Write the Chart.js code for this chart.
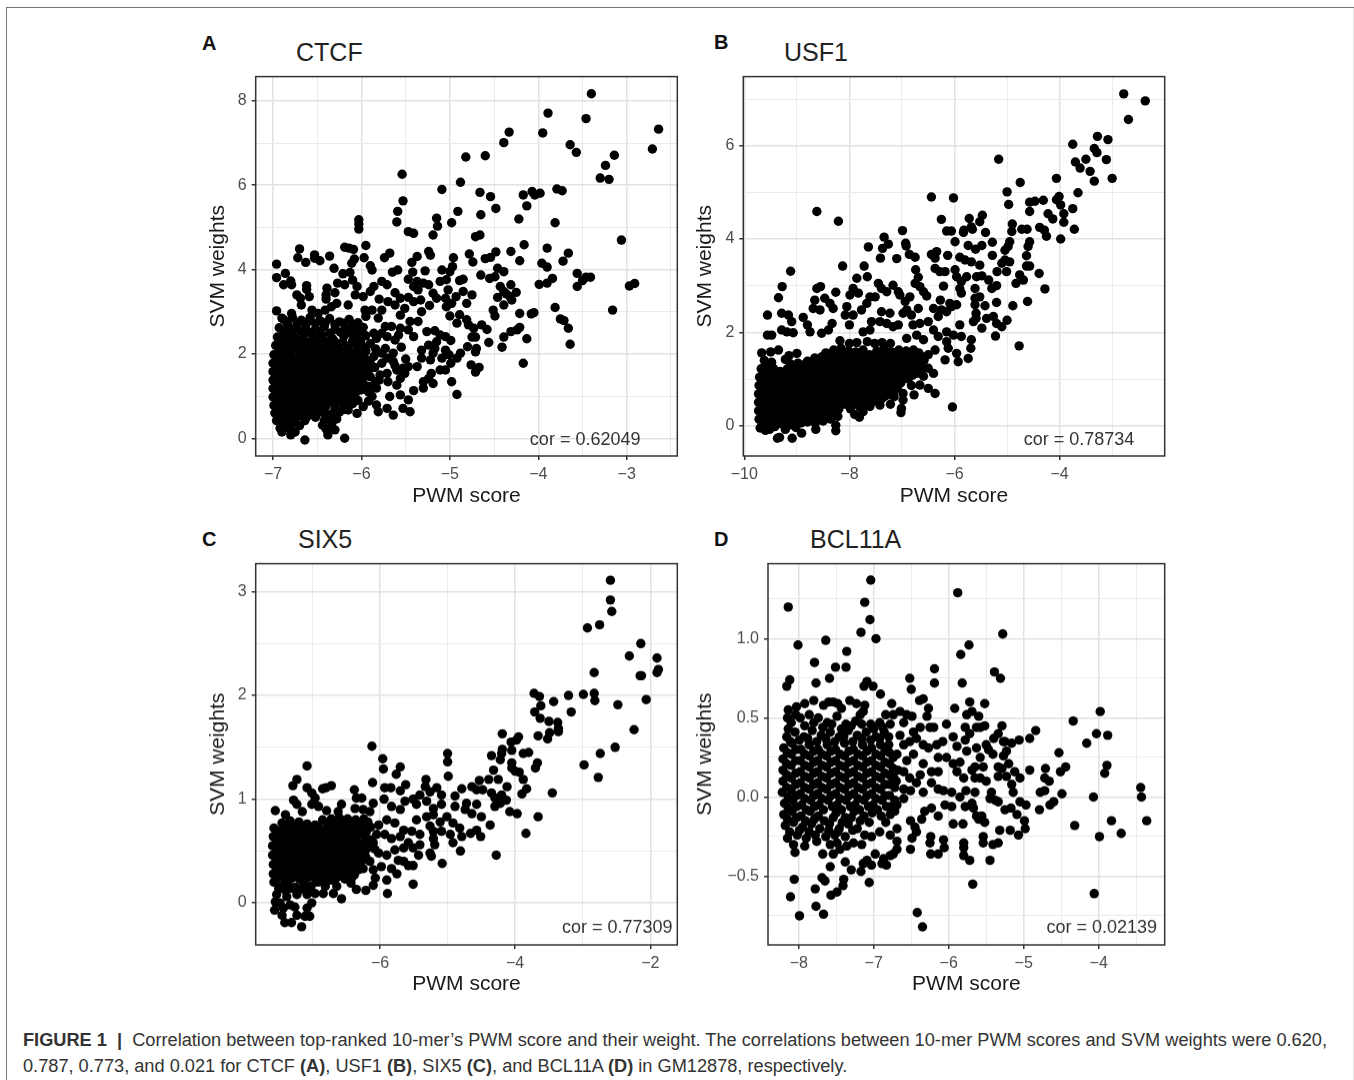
<!DOCTYPE html>
<html>
<head>
<meta charset="utf-8">
<script src="https://cdn.jsdelivr.net/npm/chart.js@4"></script>
<style>
  body { margin: 0; background: #fff; width: 1354px; height: 1080px; overflow: hidden; font-family: "Liberation Sans", Arial, sans-serif; }
  canvas { position: absolute; }
  .rule { position: absolute; }
  .letter { position: absolute; font-weight: bold; font-size: 20px; line-height: 24px; color: #111; }
  .name { position: absolute; font-size: 25px; line-height: 30px; color: #222; }
  .caption { position: absolute; left: 23px; font-size: 18px; line-height: 22px; color: #333; white-space: nowrap; transform-origin: left center; }
</style>
</head>
<body>
<div class="rule" style="left:6px;top:7px;width:1348px;height:1px;background:#777"></div>
<div class="rule" style="left:6px;top:7px;width:1px;height:1073px;background:#777"></div>
<div class="rule" style="left:1353px;top:8px;width:1px;height:1072px;background:#e4e4e4"></div>

<div class="letter" style="left:202px;top:31px">A</div>
<div class="letter" style="left:714px;top:30px">B</div>
<div class="letter" style="left:202px;top:527px">C</div>
<div class="letter" style="left:714px;top:527px">D</div>
<div class="name" style="left:296px;top:37px">CTCF</div>
<div class="name" style="left:784px;top:37px">USF1</div>
<div class="name" style="left:298px;top:524px">SIX5</div>
<div class="name" style="left:810px;top:524px">BCL11A</div>

<canvas id="chartA"></canvas>
<canvas id="chartB"></canvas>
<canvas id="chartC"></canvas>
<canvas id="chartD"></canvas>

<div class="caption" id="cap1" style="top:1029px"><b>FIGURE 1 &nbsp;|</b>&nbsp; Correlation between top-ranked 10-mer’s PWM score and their weight. The correlations between 10-mer PWM scores and SVM weights were 0.620,</div>
<div class="caption" id="cap2" style="top:1055px">0.787, 0.773, and 0.021 for CTCF <b>(A)</b>, USF1 <b>(B)</b>, SIX5 <b>(C)</b>, and BCL11A <b>(D)</b> in GM12878, respectively.</div>

<script>
// values: [PWM score, SVM weight]
const ctcfPoints = [
[-3.40,8.17],[-3.89,7.71],[-3.46,7.58],[-2.64,7.33],[-2.71,6.86],[-3.95,7.24],[-4.33,7.26],[-4.39,7.01],[-3.64,6.96],[-3.57,6.78],[-3.14,6.71],[-3.24,6.47],[-3.30,6.17],[-3.20,6.14],[-4.82,6.67],[-4.60,6.70],[-5.54,6.26],[-4.88,6.07],[-5.09,5.90],[-5.53,5.63],[-4.66,5.83],[-4.54,5.73],[-4.17,5.77],[-4.07,5.85],[-4.04,5.77],[-3.98,5.81],[-3.79,5.91],[-3.73,5.87],[-4.13,5.51],[-4.48,5.45],[-4.91,5.38],[-4.65,5.30],[-5.59,5.38],[-5.60,5.13],[-6.03,5.18],[-6.03,5.08],[-6.03,4.96],[-5.15,5.22],[-5.14,5.03],[-4.98,5.11],[-4.22,5.20],[-3.81,5.11],[-5.47,4.90],[-5.41,4.86],[-5.19,4.82],[-4.71,4.78],[-4.66,4.82],[-3.06,4.70],[-4.16,4.59],[-3.90,4.51],[-4.31,4.43],[-3.66,4.39],[-4.48,4.42],[-4.78,4.37],[-5.24,4.43],[-5.22,4.34],[-4.96,4.28],[-4.60,4.26],[-4.54,4.29],[-3.72,4.20],[-4.21,4.21],[-4.74,4.18],[-3.96,4.15],[-3.90,4.06],[-4.46,4.03],[-4.39,3.95],[-3.56,3.91],[-4.97,4.07],[-5.00,3.95],[-5.09,3.99],[-4.65,3.87],[-4.49,3.83],[-4.55,3.79],[-3.41,3.82],[-3.46,3.82],[-3.50,3.74],[-3.56,3.60],[-3.84,3.79],[-3.90,3.68],[-3.99,3.65],[-4.31,3.64],[-4.43,3.60],[-2.97,3.61],[-2.91,3.67],[-4.85,3.77],[-4.89,3.74],[-4.75,3.40],[-4.85,3.48],[-4.93,3.36],[-4.39,3.48],[-4.36,3.42],[-4.32,3.36],[-4.25,3.46],[-4.30,3.28],[-4.46,3.34],[-4.39,3.16],[-4.81,3.20],[-3.81,3.10],[-3.16,3.04],[-4.51,3.04],[-4.49,2.90],[-4.21,2.96],[-4.08,2.95],[-4.05,2.98],[-5.00,2.90],[-4.89,2.93],[-4.92,2.73],[-4.81,2.81],[-4.79,2.69],[-4.73,2.61],[-4.64,2.69],[-4.58,2.58],[-3.75,2.83],[-3.71,2.79],[-3.66,2.61],[-3.64,2.23],[-4.31,2.53],[-4.24,2.57],[-4.21,2.63],[-4.39,2.40],[-4.13,2.36],[-4.41,2.16],[-4.56,2.27],[-4.75,2.40],[-4.71,2.40],[-4.80,2.17],[-4.70,2.13],[-4.71,2.05],[-4.17,1.78],[-4.76,1.74],[-4.67,1.68],[-4.71,1.57],[-4.88,2.02],[-4.92,1.90],[-4.99,1.78],[-4.98,1.34],[-4.92,1.04],
[-6.96,4.13],[-6.96,3.81],[-6.86,3.91],[-6.88,3.64],[-6.80,3.73],[-6.79,3.64],[-6.70,4.49],[-6.72,4.28],[-6.63,4.17],[-6.53,4.35],[-6.53,4.27],[-6.47,4.21],[-6.36,4.32],[-6.31,4.03],[-6.62,3.62],[-6.62,3.53],[-6.59,3.36],[-6.73,3.40],[-6.69,3.32],[-6.68,3.16],[-6.96,3.02],[-6.39,3.56],[-6.40,3.40],[-6.40,3.30],[-6.30,3.45],[-6.27,3.68],[-6.21,3.90],[-6.13,3.93],[-6.19,4.53],[-6.14,4.51],[-6.09,4.48],[-5.95,4.57],[-5.97,4.28],[-6.08,4.25],[-6.11,4.15],[-5.90,4.09],[-5.88,3.99],[-5.74,4.28],[-5.68,4.39],[-5.37,4.31],[-5.43,4.17],[-5.65,3.94],[-5.59,3.99],[-5.42,3.94],[-5.47,3.77],[-5.37,3.72],[-5.28,3.97],[-6.19,3.64],[-6.10,3.75],[-6.05,3.60],[-6.07,3.40],[-5.98,3.36],[-5.86,3.60],[-5.77,3.72],[-5.71,3.64],[-5.90,3.48],[-5.62,3.45],[-5.56,3.32],[-5.47,3.34],[-5.41,3.60],[-5.36,3.52],[-5.30,3.68],[-5.24,3.64],[-5.19,3.44],[-5.15,3.32],[-5.11,3.72],[-5.04,3.76],[-5.02,3.52],[-5.05,3.32],[-5.04,3.12],[-4.98,3.20],[-5.80,3.30],[-5.70,3.24],[-5.62,3.16],[-6.15,3.16],[-6.28,3.20],[-6.34,3.12],[-5.96,3.04],[-5.88,3.04],[-5.95,2.89],[-5.77,3.04],[-5.81,2.85],[-5.56,2.92],[-5.51,3.08],[-5.32,3.00],[-5.23,3.15],[-5.41,3.24],[-5.33,3.28],[-6.56,3.04],[-6.49,2.96],[-6.41,3.04],[-6.79,2.96],[-6.90,2.85],
[-5.45,2.77],[-5.36,2.77],[-5.47,2.57],[-5.41,2.41],[-5.56,2.61],[-5.66,2.65],[-5.73,2.65],[-5.26,2.53],[-5.17,2.55],[-5.11,2.45],[-5.05,2.41],[-4.99,2.32],[-5.15,2.29],[-5.17,2.13],[-5.24,2.21],[-5.32,2.09],[-5.19,2.02],[-5.22,1.86],[-5.05,2.09],[-5.09,1.90],[-5.01,1.98],[-5.37,1.70],[-5.32,1.90],[-5.11,1.62],[-5.05,1.62],[-5.21,1.54],[-5.24,1.42],[-5.30,1.34],[-5.19,1.30],[-5.30,1.19],[-5.41,1.13],[-5.47,1.70],[-5.53,1.66],[-5.60,1.62],[-5.51,1.54],[-5.56,1.42],[-5.60,1.26],[-5.56,1.03],[-5.68,0.99],[-5.47,0.91],[-5.53,0.71],[-5.45,0.63],[-5.64,0.55],[-5.71,0.71],[-5.81,0.63],[-5.83,0.79],[-5.71,2.41],[-5.77,2.49],[-5.83,2.37],[-5.86,2.49],[-5.62,2.33],[-5.73,2.13],[-5.64,2.02],[-5.77,2.02],[-5.64,1.82],[-5.77,1.78],[-5.71,1.90],[-5.86,1.94],[-5.90,1.78],[-5.90,1.46],[-5.79,1.50],[-5.71,1.54],[-5.92,1.23],[-5.83,1.19],[-5.70,1.34],[-5.88,0.99],[-5.98,0.75],[-6.05,0.59],[-6.15,0.67],
[-6.88,2.82],[-6.78,2.86],[-6.68,2.80],[-6.58,2.87],[-6.47,2.79],[-6.36,2.84],[-6.25,2.76],[-6.14,2.82],[-6.04,2.74],
[-6.93,2.62],[-6.83,2.66],[-6.74,2.60],[-6.63,2.67],[-6.52,2.59],[-6.42,2.65],[-6.30,2.58],[-6.18,2.62],[-6.08,2.56],[-5.98,2.63],
[-6.95,2.40],[-6.85,2.45],[-6.75,2.38],[-6.65,2.46],[-6.55,2.40],[-6.45,2.44],[-6.33,2.37],[-6.20,2.42],[-6.05,2.38],[-5.95,2.43],
[-6.97,2.20],[-6.86,2.24],[-6.77,2.18],[-6.66,2.25],[-6.57,2.19],[-6.46,2.23],[-6.37,2.17],[-6.27,2.24],[-6.15,2.18],[-6.06,2.22],[-5.96,2.16],
[-6.99,1.98],[-6.90,2.03],[-6.80,1.97],[-6.70,2.04],[-6.60,1.98],[-6.50,2.02],[-6.40,1.96],[-6.30,2.03],[-6.20,1.97],[-6.10,2.01],[-6.00,1.96],
[-7.00,1.78],[-6.91,1.82],[-6.81,1.77],[-6.71,1.83],[-6.61,1.78],[-6.51,1.82],[-6.41,1.76],[-6.31,1.83],[-6.21,1.77],[-6.11,1.81],[-6.01,1.76],
[-7.00,1.58],[-6.90,1.62],[-6.80,1.57],[-6.70,1.63],[-6.60,1.57],[-6.50,1.62],[-6.40,1.56],[-6.30,1.62],[-6.20,1.57],[-6.10,1.62],[-6.00,1.56],
[-7.00,1.38],[-6.91,1.42],[-6.81,1.37],[-6.71,1.43],[-6.61,1.37],[-6.51,1.42],[-6.41,1.36],[-6.31,1.42],[-6.21,1.37],[-6.11,1.41],[-6.01,1.36],
[-7.00,1.18],[-6.90,1.22],[-6.80,1.17],[-6.70,1.23],[-6.60,1.17],[-6.50,1.21],[-6.40,1.16],[-6.30,1.22],[-6.20,1.17],[-6.10,1.21],[-6.00,1.15],
[-7.00,0.98],[-6.91,1.02],[-6.81,0.97],[-6.71,1.03],[-6.61,0.97],[-6.51,1.01],[-6.41,0.96],[-6.31,1.01],[-6.21,0.96],[-6.11,1.00],
[-6.99,0.78],[-6.90,0.82],[-6.80,0.77],[-6.70,0.83],[-6.60,0.77],[-6.50,0.81],[-6.40,0.76],[-6.30,0.81],[-6.20,0.76],[-6.10,0.82],
[-6.98,0.60],[-6.88,0.62],[-6.78,0.57],[-6.68,0.63],[-6.58,0.58],[-6.46,0.62],[-6.35,0.56],[-6.25,0.62],
[-6.96,0.42],[-6.86,0.44],[-6.76,0.40],[-6.64,0.42],[-6.42,0.42],[-6.33,0.38],[-6.28,0.46],
[-6.92,0.24],[-6.90,0.15],[-6.80,0.32],[-6.75,0.15],[-6.80,0.08],[-6.40,0.22],[-6.38,0.08],[-6.30,0.20],[-6.64,-0.04],[-6.19,0.00],
[-6.84,2.73],[-6.73,2.71],[-6.62,2.74],[-6.52,2.72],[-6.41,2.74],[-6.30,2.70],[-6.20,2.73],[-6.09,2.70],
[-6.88,2.53],[-6.79,2.50],[-6.69,2.54],[-6.58,2.51],[-6.47,2.53],[-6.36,2.49],[-6.24,2.52],[-6.13,2.50],[-6.03,2.53],
[-6.91,2.31],[-6.80,2.29],[-6.71,2.32],[-6.60,2.28],[-6.50,2.31],[-6.40,2.29],[-6.31,2.31],[-6.21,2.28],[-6.10,2.31],[-6.01,2.29],
[-6.93,2.11],[-6.83,2.09],[-6.73,2.12],[-6.64,2.08],[-6.53,2.11],[-6.44,2.09],[-6.34,2.12],[-6.24,2.09],[-6.15,2.11],[-6.05,2.09],[-5.95,2.07],
[-6.95,1.89],[-6.85,1.91],[-6.75,1.88],[-6.65,1.91],[-6.55,1.88],[-6.45,1.91],[-6.35,1.89],[-6.25,1.91],[-6.15,1.88],[-6.05,1.91],[-5.95,1.87],
[-6.95,1.69],[-6.85,1.71],[-6.75,1.68],[-6.65,1.71],[-6.55,1.68],[-6.45,1.71],[-6.35,1.68],[-6.25,1.71],[-6.15,1.69],[-6.05,1.71],[-5.95,1.67],
[-6.95,1.49],[-6.85,1.51],[-6.75,1.48],[-6.65,1.51],[-6.55,1.48],[-6.45,1.51],[-6.35,1.48],[-6.25,1.51],[-6.15,1.48],[-6.05,1.51],[-5.95,1.47],
[-6.95,1.29],[-6.85,1.31],[-6.75,1.28],[-6.65,1.31],[-6.55,1.28],[-6.45,1.31],[-6.35,1.28],[-6.25,1.31],[-6.15,1.28],[-6.05,1.31],[-5.97,1.27],
[-6.95,1.09],[-6.85,1.11],[-6.75,1.08],[-6.65,1.11],[-6.55,1.08],[-6.45,1.11],[-6.35,1.08],[-6.25,1.11],[-6.15,1.08],[-6.05,1.11],
[-6.95,0.89],[-6.85,0.91],[-6.75,0.88],[-6.65,0.91],[-6.55,0.88],[-6.45,0.91],[-6.35,0.88],[-6.25,0.91],[-6.15,0.88],[-6.04,0.90],
[-6.94,0.69],[-6.84,0.71],[-6.74,0.68],[-6.64,0.71],[-6.54,0.68],[-6.42,0.70],[-6.30,0.68],[-6.20,0.68],
[-6.93,0.51],[-6.83,0.50],[-6.72,0.52],[-6.62,0.50],[-6.52,0.50],[-6.40,0.52],[-6.30,0.52],[-6.90,0.33],[-6.82,0.24],[-6.70,0.30],[-6.44,0.31],[-6.34,0.28],
[-5.90,2.24],[-5.84,2.12],[-5.85,1.68],[-5.92,1.62],[-5.84,1.34],[-5.92,1.10],[-5.80,1.38],[-5.62,1.72],[-5.55,2.16],[-5.50,1.88],[-5.58,2.45],[-5.92,0.88]
];

const usf1Points = [
[-2.78,7.11],[-2.37,6.96],[-2.69,6.56],[-3.28,6.20],[-3.08,6.13],[-3.75,6.03],[-3.34,5.94],[-3.29,5.85],[-3.50,5.71],[-3.11,5.70],[-5.16,5.71],[-3.70,5.65],[-3.61,5.52],[-3.42,5.45],[-3.34,5.24],[-3.00,5.30],[-4.06,5.30],[-4.75,5.21],[-3.65,4.99],[-5.00,5.01],[-6.44,4.90],[-6.02,4.88],[-4.01,4.91],[-4.06,4.84],[-3.98,4.73],[-4.31,4.83],[-4.47,4.81],[-4.57,4.79],[-4.97,4.74],[-3.75,4.65],[-4.57,4.59],[-3.92,4.54],[-4.22,4.54],[-4.13,4.43],[-3.92,4.36],[-3.72,4.21],[-8.62,4.59],[-8.21,4.38],[-6.25,4.42],[-5.72,4.44],[-5.47,4.51],[-5.52,4.37],[-5.66,4.21],[-5.68,4.26],[-5.83,4.14],[-5.82,4.19],[-5.41,4.14],[-6.15,4.17],[-6.06,4.17],[-4.90,4.32],[-4.91,4.16],[-4.72,4.21],[-4.62,4.21],[-4.38,4.25],[-4.29,4.19],[-4.25,4.06],[-3.98,4.00],[-6.99,4.18],[-7.34,4.04],[-7.26,3.89],[-7.37,3.80],[-7.41,3.59],[-7.64,3.83],[-6.93,3.91],[-6.92,3.85],[-6.86,3.67],[-6.75,3.61],[-7.10,3.58],[-8.13,3.42],[-7.72,3.42],[-9.12,3.31],[-7.86,3.16],[-7.66,3.19],[-5.99,3.94],[-5.28,3.93],[-5.48,3.86],[-5.60,3.78],[-5.74,3.86],[-4.95,3.94],[-4.98,3.84],[-5.04,3.76],[-4.57,3.94],[-4.60,3.84],[-4.63,3.64],[-4.63,3.42],[-4.57,3.42],[-5.28,3.65],[-6.44,3.67],[-6.34,3.73],[-6.37,3.59],[-6.13,3.65],[-5.90,3.61],[-5.80,3.55],[-5.68,3.51],[-5.52,3.44],[-5.04,3.55],[-5.10,3.48],[-4.95,3.51],[-5.19,3.30],[-5.01,3.30],[-4.39,3.26],[-4.28,2.93],[-4.76,3.23],[-4.69,3.12],[-4.83,3.05],[-6.37,3.37],[-6.28,3.30],[-6.18,3.30],[-5.99,3.34],[-5.96,3.19],[-5.77,3.19],[-5.87,3.09],[-5.58,3.19],[-5.48,3.21],[-5.35,3.12],[-5.29,2.94],[-5.20,3.00],[-6.21,2.99],[-5.90,2.94],[-5.87,2.84],[-5.61,2.94],[-6.74,3.34],[-6.69,3.18],[-6.75,3.05],[-6.66,2.98],[-6.59,2.87],[-6.53,2.78],[-7.45,3.05],[-7.39,2.94],[-7.29,2.87],[-7.17,3.01],[-7.07,2.87],[-7.04,2.80],[-9.28,2.98],[-9.35,2.74],[-8.62,2.94],[-8.55,2.98],[-8.47,2.73],[-8.26,2.86],[-8.66,2.69],[-8.69,2.51],[-8.56,2.48],[-8.37,2.62],[-8.31,2.51],[-7.93,2.94],[-7.83,2.84],[-7.99,2.80],[-7.61,2.76],[-7.51,2.76],[-7.67,2.62],[-7.77,2.48],[-8.05,2.55],[-7.93,2.37],[-8.08,2.37],[-8.00,2.16],[-9.56,2.37],[-9.29,2.41],[-9.16,2.37],[-9.10,2.23],[-8.88,2.32],[-8.80,2.16],[-8.75,2.01],[-8.33,2.19],[-8.53,1.98],[-8.40,2.05],[-9.56,1.94],[-9.48,1.94],[-9.29,2.05],[-9.19,2.01],[-9.07,1.99],[-7.39,2.44],[-7.23,2.41],[-7.58,2.23],[-7.42,2.23],[-7.29,2.19],[-7.17,2.12],[-7.07,2.16],[-7.61,2.05],[-7.74,2.01],[-6.85,2.76],[-6.94,2.66],[-6.91,2.48],[-6.98,2.41],[-6.82,2.37],[-6.69,2.51],[-6.40,2.51],[-6.31,2.34],[-6.25,2.48],[-6.15,2.44],[-6.06,2.55],[-5.96,2.59],[-6.27,2.69],[-6.09,2.62],[-5.61,2.59],[-5.42,2.57],[-5.52,2.76],[-5.61,2.73],[-5.20,2.64],[-4.89,2.57],[-4.61,2.66],[-5.59,2.41],[-5.64,2.23],[-5.48,2.09],[-5.59,2.30],[-5.39,2.30],[-5.26,2.34],[-5.20,2.19],[-5.10,2.12],[-5.00,2.26],[-5.22,1.92],[-4.77,1.71],[-5.90,2.16],[-6.02,1.94],[-5.87,1.91],[-6.15,2.01],[-6.15,1.80],[-6.79,2.16],[-6.66,2.19],[-6.50,2.23],[-6.40,2.05],[-6.31,1.91],[-6.72,1.94],[-6.59,1.84],[-6.91,1.87],[-5.68,1.84],[-5.69,1.66],[-5.74,1.44],[-5.96,1.55],[-5.93,1.37],[-6.18,1.41],[-6.12,1.66],[-6.37,1.62],[-6.04,0.40],[-6.37,0.69],[-6.50,0.80],[-6.66,0.87],[-6.77,0.66],[-6.59,1.06],[-6.50,1.23],[-6.40,1.12],[-6.82,0.86],[-6.98,0.69],[-6.98,0.55],[-7.01,0.37],[-7.02,0.28],[-7.15,0.62],[-7.22,0.46],[-7.42,0.44],[-7.61,0.41],[-7.74,0.30],[-7.81,0.18],
[-9.37,-0.27],[-9.33,-0.25],[-9.09,-0.27],[-8.91,-0.16],[-9.02,-0.04],[-8.64,-0.08],[-8.26,-0.11],[-8.26,0.01],[-9.67,1.56],[-9.50,1.58],[-9.15,1.50],[-9.00,1.55],[-9.35,1.62],
[-9.70,-0.05],[-9.60,-0.10],[-9.52,-0.08],[-9.42,-0.02],[-9.22,-0.08],[-9.12,0.02],[-8.80,0.08],[-8.65,0.05],[-8.50,0.10],[-8.36,0.14],[-8.22,0.20],
[-9.72,0.14],[-9.60,0.18],[-9.48,0.12],[-9.36,0.17],[-9.24,0.13],[-9.10,0.18],[-8.96,0.14],[-8.84,0.20],[-8.70,0.22],[-8.56,0.26],[-8.40,0.30],[-8.26,0.36],
[-9.73,0.32],[-9.61,0.36],[-9.49,0.31],[-9.37,0.37],[-9.25,0.32],[-9.12,0.37],[-8.98,0.32],[-8.85,0.38],[-8.72,0.34],[-8.58,0.42],[-8.44,0.46],[-8.28,0.52],[-8.14,0.46],[-7.98,0.36],[-7.90,0.24],
[-9.73,0.50],[-9.61,0.54],[-9.49,0.49],[-9.37,0.55],[-9.25,0.50],[-9.12,0.55],[-8.98,0.50],[-8.85,0.56],[-8.72,0.52],[-8.58,0.58],[-8.44,0.62],[-8.30,0.68],[-8.14,0.62],[-8.00,0.54],[-7.88,0.50],[-7.72,0.48],[-7.56,0.52],[-7.40,0.56],
[-9.73,0.68],[-9.61,0.72],[-9.49,0.67],[-9.37,0.73],[-9.25,0.68],[-9.12,0.73],[-8.98,0.68],[-8.85,0.74],[-8.72,0.70],[-8.58,0.76],[-8.44,0.80],[-8.30,0.84],[-8.14,0.78],[-8.00,0.72],[-7.86,0.68],[-7.72,0.66],[-7.56,0.70],[-7.40,0.72],[-7.28,0.66],[-7.14,0.76],
[-9.72,0.86],[-9.60,0.90],[-9.48,0.85],[-9.36,0.91],[-9.24,0.86],[-9.11,0.91],[-8.98,0.86],[-8.84,0.92],[-8.70,0.88],[-8.56,0.94],[-8.42,0.98],[-8.28,1.00],[-8.14,0.94],[-8.00,0.90],[-7.86,0.86],[-7.72,0.84],[-7.58,0.88],[-7.44,0.90],[-7.30,0.84],[-7.16,0.90],[-7.02,0.92],[-6.88,1.00],
[-9.71,1.04],[-9.59,1.08],[-9.47,1.03],[-9.35,1.09],[-9.23,1.04],[-9.10,1.09],[-8.96,1.04],[-8.82,1.10],[-8.68,1.06],[-8.54,1.12],[-8.40,1.15],[-8.26,1.18],[-8.12,1.12],[-7.98,1.08],[-7.84,1.04],[-7.70,1.02],[-7.56,1.06],[-7.42,1.08],[-7.28,1.02],[-7.14,1.08],[-7.00,1.10],[-6.86,1.16],[-6.72,1.12],
[-9.68,1.22],[-9.56,1.27],[-9.44,1.22],[-9.32,1.16],[-9.18,1.22],[-9.04,1.20],[-8.90,1.24],[-8.76,1.26],[-8.62,1.30],[-8.48,1.32],[-8.34,1.34],[-8.20,1.30],[-8.06,1.26],[-7.92,1.22],[-7.78,1.20],[-7.64,1.24],[-7.50,1.26],[-7.36,1.20],[-7.22,1.28],[-7.08,1.26],[-6.94,1.32],[-6.80,1.30],[-6.66,1.30],
[-9.62,1.40],[-9.22,1.42],[-8.80,1.38],[-8.66,1.45],[-8.52,1.48],[-8.38,1.50],[-8.24,1.47],[-8.10,1.44],[-7.96,1.40],[-7.82,1.38],[-7.68,1.42],[-7.46,1.44],[-7.32,1.40],[-7.18,1.46],[-7.04,1.44],[-6.90,1.48],[-6.76,1.46],[-6.62,1.48],[-6.50,1.52],
[-8.30,1.62],[-8.16,1.66],[-8.02,1.60],[-7.88,1.58],[-7.74,1.62],[-7.48,1.60],[-7.34,1.64],[-7.20,1.58],[-7.06,1.62],[-6.92,1.60],[-6.78,1.62],[-8.18,1.82],[-8.00,1.76],[-7.86,1.78],[-7.66,1.80],[-7.52,1.76],[-7.38,1.78],[-7.22,1.76],
[-9.66,0.05],[-9.54,0.04],[-9.42,0.08],[-9.30,0.04],[-9.17,0.09],[-9.04,0.08],[-8.92,0.06],[-8.78,0.14],[-8.62,0.14],[-8.46,0.20],[-8.32,0.24],
[-9.67,0.23],[-9.55,0.27],[-9.43,0.22],[-9.31,0.27],[-9.18,0.23],[-9.05,0.26],[-8.91,0.24],[-8.78,0.28],[-8.64,0.32],[-8.50,0.36],[-8.34,0.42],[-8.20,0.36],
[-9.67,0.41],[-9.55,0.45],[-9.43,0.40],[-9.31,0.46],[-9.18,0.41],[-9.05,0.46],[-8.91,0.41],[-8.78,0.46],[-8.65,0.43],[-8.51,0.52],[-8.37,0.56],[-8.21,0.56],[-8.07,0.46],[-7.94,0.44],[-7.80,0.40],[-7.64,0.44],
[-9.67,0.59],[-9.55,0.63],[-9.43,0.58],[-9.31,0.64],[-9.18,0.59],[-9.05,0.64],[-8.91,0.59],[-8.78,0.64],[-8.65,0.61],[-8.51,0.68],[-8.37,0.72],[-8.21,0.72],[-8.07,0.66],[-7.93,0.62],[-7.79,0.58],[-7.64,0.60],[-7.48,0.64],[-7.34,0.62],
[-9.67,0.77],[-9.55,0.81],[-9.43,0.76],[-9.31,0.82],[-9.18,0.77],[-9.05,0.82],[-8.91,0.77],[-8.78,0.83],[-8.64,0.79],[-8.50,0.86],[-8.36,0.90],[-8.21,0.88],[-8.07,0.84],[-7.93,0.80],[-7.79,0.76],[-7.65,0.78],[-7.50,0.80],[-7.36,0.80],[-7.22,0.78],[-7.08,0.84],
[-9.66,0.95],[-9.54,0.99],[-9.42,0.94],[-9.30,1.00],[-9.17,0.95],[-9.04,1.00],[-8.90,0.95],[-8.76,1.01],[-8.62,0.98],[-8.48,1.05],[-8.34,1.08],[-8.20,1.06],[-8.06,1.00],[-7.92,0.96],[-7.78,0.94],[-7.64,0.96],[-7.50,0.98],[-7.36,0.98],[-7.22,0.94],[-7.08,1.00],[-6.94,1.04],[-6.80,1.08],
[-9.64,1.14],[-9.52,1.17],[-9.40,1.13],[-9.26,1.14],[-9.12,1.18],[-9.00,1.12],[-8.86,1.18],[-8.72,1.16],[-8.58,1.22],[-8.44,1.24],[-8.30,1.26],[-8.16,1.20],[-8.02,1.18],[-7.88,1.13],[-7.74,1.12],[-7.60,1.15],[-7.46,1.18],[-7.32,1.12],[-7.18,1.18],[-7.04,1.18],[-6.90,1.24],[-6.76,1.22],[-6.62,1.22],
[-9.60,1.32],[-9.48,1.36],[-9.12,1.32],[-8.98,1.34],[-8.84,1.32],[-8.70,1.37],[-8.56,1.40],[-8.42,1.42],[-8.28,1.42],[-8.14,1.37],[-8.00,1.33],[-7.86,1.30],[-7.72,1.33],[-7.56,1.35],[-7.42,1.32],[-7.28,1.34],[-7.14,1.36],[-7.00,1.36],[-6.86,1.40],[-6.72,1.38],[-6.58,1.40],
[-8.45,1.56],[-8.32,1.56],[-8.18,1.56],[-8.06,1.52],[-7.92,1.50],[-7.78,1.50],[-7.62,1.52],[-7.50,1.52],[-7.38,1.52],[-7.24,1.52],[-7.10,1.53],[-6.96,1.54],[-6.82,1.54],[-6.68,1.56]
];

const six5Points = [
[-2.59,3.11],[-2.59,2.92],[-2.57,2.81],[-2.93,2.65],[-2.75,2.68],[-2.14,2.50],[-2.31,2.38],[-1.90,2.36],[-1.88,2.25],[-1.90,2.22],[-2.83,2.22],[-2.15,2.19],[-2.13,2.19],[-3.72,2.02],[-3.64,1.99],[-3.21,2.00],[-2.99,2.01],[-2.83,2.02],[-2.82,1.95],[-2.06,1.96],[-3.43,1.94],[-3.62,1.90],[-2.48,1.91],[-3.71,1.84],[-3.17,1.84],[-3.63,1.78],[-3.50,1.75],[-3.37,1.74],[-3.36,1.68],[-3.36,1.65],[-2.24,1.67],[-3.49,1.64],[-3.66,1.61],[-3.52,1.58],[-4.19,1.63],[-3.95,1.60],[-3.98,1.57],[-4.06,1.55],[-2.52,1.50],[-4.19,1.48],[-4.20,1.44],[-4.05,1.47],[-4.35,1.42],[-4.22,1.38],[-3.80,1.45],[-3.88,1.44],[-5.00,1.44],[-5.00,1.36],[-2.74,1.44],[-6.12,1.51],[-5.96,1.39],[-5.70,1.31],[-5.95,1.29],[-5.76,1.24],[-7.08,1.32],[-7.23,1.19],[-7.29,1.13],[-2.98,1.33],[-3.67,1.35],[-3.70,1.30],[-4.05,1.35],[-4.05,1.30],[-4.00,1.27],[-3.94,1.26],[-4.32,1.28],[-4.99,1.22],[-2.77,1.21],[-4.39,1.19],[-4.25,1.19],[-4.53,1.18],[-3.88,1.19],[-4.12,1.12],[-3.83,1.10],[-3.90,1.05],[-3.45,1.06],[-6.11,1.16],[-5.93,1.11],[-5.84,1.11],[-5.62,1.14],[-5.70,1.08],[-5.32,1.19],[-6.72,1.13],[-6.80,1.11],[-6.85,1.10],[-7.08,1.11],[-7.01,1.06],[-6.96,1.01],[-6.38,1.09],[-6.35,1.01],[-6.27,1.01],[-7.28,0.99],[-7.23,0.95],[-7.15,0.88],[-7.55,0.89],[-7.40,0.85],[-7.01,0.95],[-6.91,0.93],[-6.79,0.89],[-6.57,0.95],[-6.62,0.88],[-6.37,0.91],[-6.25,0.90],[-6.10,0.96],[-6.15,0.88],[-5.94,1.00],[-5.83,0.93],[-5.70,0.90],[-5.51,1.00],[-5.41,1.04],[-5.33,1.12],[-5.26,1.07],[-5.16,1.11],[-5.09,1.04],[-4.89,1.03],[-4.79,1.10],[-5.63,0.98],[-5.46,0.95],[-5.31,0.98],[-5.21,0.91],[-5.09,0.95],[-4.64,1.12],[-4.57,1.09],[-4.48,1.09],[-4.35,1.06],[-4.30,1.01],[-4.20,1.04],[-4.13,0.99],[-4.30,0.93],[-4.22,0.96],[-4.08,0.88],[-3.97,0.86],[-3.66,0.83],[-4.72,0.96],[-4.57,0.95],[-4.50,0.83],[-4.64,0.86],[-4.74,0.90],[-4.89,0.93],[-4.37,0.75],[-3.84,0.67],[-4.51,0.64],[-4.66,0.67],[-4.57,0.70],[-4.82,0.72],[-4.79,0.64],[-4.92,0.58],[-4.81,0.50],[-4.28,0.46],[-5.08,0.38],[-5.51,0.18],[-5.89,0.09],[-6.21,0.12],[-6.57,0.04],[-6.35,0.13],[-6.43,0.19],[-6.10,0.17],[-6.07,0.24],[-5.75,0.28],[-5.90,0.22],[-5.51,0.36],[-5.58,0.36],[-5.73,0.41],[-5.65,0.40],[-5.24,0.45],[-5.26,0.48],[-5.19,0.56],[-5.21,0.62],[-5.43,0.46],[-5.41,0.56],[-5.51,0.53],[-5.58,0.58],[-5.65,0.53],[-5.41,0.66],[-5.53,0.69],[-5.65,0.70],[-5.26,0.74],[-5.11,0.78],[-5.01,0.83],[-4.92,0.77],[-5.31,0.83],[-5.46,0.80],[-5.21,0.85],[-5.09,0.69],[-4.96,0.66],[-5.21,0.69],[-5.78,0.77],[-5.90,0.80],[-6.02,0.75],[-5.70,0.64],[-5.83,0.62],[-5.93,0.66],[-6.05,0.66],[-6.15,0.61],[-5.78,0.51],[-5.90,0.46],[-6.02,0.48],[-6.15,0.40],[-5.98,0.35],[-5.83,0.33],[-6.25,0.33],[-6.10,0.32],[-6.84,0.09],[-6.69,0.09],[-6.81,0.16],[-6.64,0.16],
[-7.16,-0.23],[-7.41,-0.19],[-7.31,-0.19],[-7.45,-0.12],[-7.56,-0.07],[-7.04,-0.13],[-7.11,-0.13],[-7.23,-0.12],[-7.55,0.01],[-7.48,0.00],[-7.43,-0.05],[-7.33,-0.02],[-7.26,-0.04],[-7.08,-0.05],[-7.01,0.00],[-6.96,0.09],[-7.53,0.08],[-7.38,0.06],[-7.23,0.08],[-7.08,0.08],
[-7.57,0.20],[-7.46,0.16],[-7.36,0.20],[-7.25,0.15],[-7.13,0.19],[-7.02,0.16],[-6.92,0.20],[-6.72,0.22],[-6.52,0.23],
[-7.58,0.28],[-7.47,0.26],[-7.36,0.29],[-7.25,0.26],[-7.14,0.29],[-7.03,0.26],[-6.92,0.29],[-6.81,0.26],[-6.70,0.29],[-6.59,0.26],[-6.48,0.30],[-6.38,0.27],
[-7.58,0.37],[-7.47,0.35],[-7.36,0.38],[-7.25,0.35],[-7.14,0.38],[-7.03,0.35],[-6.92,0.38],[-6.81,0.35],[-6.70,0.38],[-6.59,0.35],[-6.48,0.38],[-6.37,0.35],[-6.26,0.41],
[-7.59,0.46],[-7.48,0.44],[-7.37,0.47],[-7.26,0.44],[-7.15,0.47],[-7.04,0.44],[-6.93,0.47],[-6.82,0.44],[-6.71,0.47],[-6.60,0.44],[-6.49,0.47],[-6.38,0.44],[-6.27,0.49],
[-7.59,0.55],[-7.48,0.53],[-7.37,0.56],[-7.26,0.53],[-7.15,0.56],[-7.04,0.53],[-6.93,0.56],[-6.82,0.53],[-6.71,0.56],[-6.60,0.53],[-6.49,0.56],[-6.38,0.53],[-6.27,0.57],[-6.16,0.54],
[-7.58,0.64],[-7.47,0.62],[-7.36,0.65],[-7.25,0.62],[-7.14,0.65],[-7.03,0.62],[-6.92,0.65],[-6.81,0.62],[-6.70,0.65],[-6.59,0.62],[-6.48,0.65],[-6.37,0.62],[-6.26,0.66],
[-7.57,0.72],[-7.46,0.70],[-7.35,0.74],[-7.24,0.71],[-7.13,0.73],[-7.02,0.69],[-6.91,0.73],[-6.80,0.70],[-6.69,0.73],[-6.58,0.71],[-6.47,0.74],[-6.36,0.71],[-6.26,0.75],[-6.14,0.73],
[-7.33,0.79],[-7.20,0.78],[-6.85,0.80],[-6.72,0.81],[-6.60,0.82],[-6.48,0.81],[-6.36,0.80],[-6.24,0.81],
[-7.52,0.24],[-7.41,0.23],[-7.30,0.24],[-7.19,0.23],[-7.08,0.24],[-6.97,0.24],[-6.86,0.22],[-6.76,0.24],[-6.65,0.24],[-6.54,0.27],[-6.42,0.24],
[-7.53,0.33],[-7.42,0.31],[-7.31,0.33],[-7.20,0.31],[-7.09,0.33],[-6.98,0.31],[-6.87,0.33],[-6.76,0.31],[-6.65,0.33],[-6.54,0.31],[-6.43,0.33],[-6.32,0.32],
[-7.53,0.42],[-7.42,0.40],[-7.31,0.42],[-7.20,0.40],[-7.09,0.42],[-6.98,0.40],[-6.87,0.42],[-6.76,0.40],[-6.65,0.42],[-6.54,0.40],[-6.43,0.42],[-6.32,0.40],[-6.21,0.44],
[-7.53,0.50],[-7.42,0.49],[-7.31,0.51],[-7.20,0.49],[-7.09,0.51],[-6.98,0.49],[-6.87,0.51],[-6.76,0.49],[-6.65,0.51],[-6.54,0.49],[-6.43,0.51],[-6.32,0.49],[-6.21,0.51],[-6.08,0.52],
[-7.53,0.59],[-7.42,0.58],[-7.31,0.60],[-7.20,0.58],[-7.09,0.60],[-6.98,0.58],[-6.87,0.60],[-6.76,0.58],[-6.65,0.60],[-6.54,0.58],[-6.43,0.60],[-6.32,0.58],[-6.21,0.60],[-6.10,0.58],
[-7.52,0.68],[-7.41,0.67],[-7.30,0.68],[-7.19,0.67],[-7.08,0.68],[-6.97,0.66],[-6.86,0.68],[-6.75,0.67],[-6.64,0.68],[-6.53,0.67],[-6.42,0.68],[-6.31,0.69],[-6.20,0.69],
[-7.45,0.77],[-7.28,0.75],[-7.08,0.76],[-6.96,0.75],[-6.78,0.76],[-6.66,0.77],[-6.54,0.76],[-6.42,0.76],[-6.30,0.77],[-6.18,0.78],[-7.50,0.14],[-7.40,0.12],[-7.30,0.14],[-7.18,0.13],[-7.06,0.14]
];

const bcl11aPoints = [
[-7.04,1.37],[-5.88,1.29],[-8.14,1.20],[-7.12,1.23],[-7.05,1.12],[-7.17,1.04],[-6.97,1.00],[-7.64,0.99],[-8.01,0.96],[-5.28,1.03],[-5.73,0.96],[-5.84,0.90],[-7.36,0.92],[-7.79,0.85],[-7.51,0.82],[-7.37,0.82],[-6.19,0.81],[-5.39,0.79],[-5.31,0.75],[-7.59,0.75],[-7.77,0.72],[-8.12,0.74],[-8.16,0.70],[-7.09,0.73],[-7.13,0.70],[-7.01,0.70],[-6.52,0.75],[-6.50,0.68],[-6.19,0.72],[-5.82,0.72],[-6.91,0.65],[-6.34,0.62],[-6.39,0.61],[-5.72,0.60],[-5.52,0.59],[-6.76,0.59],[-5.92,0.56],[-6.27,0.56],[-6.29,0.51],[-3.98,0.54],[-4.34,0.48],[-4.84,0.42],[-4.03,0.40],[-3.88,0.39],[-4.16,0.34],[-4.92,0.37],[-5.06,0.36],[-5.16,0.34],[-5.25,0.35],[-4.53,0.28],[-3.89,0.20],[-3.92,0.15],[-4.44,0.19],[-4.51,0.16],[-4.92,0.17],[-4.71,0.18],[-4.72,0.12],[-4.66,0.10],[-4.49,0.02],[-4.78,0.03],[-4.72,0.04],[-4.07,0.00],[-3.44,0.06],[-3.43,0.00],[-4.60,-0.03],[-4.65,-0.05],[-4.79,-0.08],[-3.36,-0.15],[-3.83,-0.15],[-4.32,-0.18],[-3.70,-0.23],[-3.99,-0.25],[-4.06,-0.61],[-4.99,-0.15],[-4.98,-0.20],[-5.07,-0.24],[-5.18,-0.21],[-5.32,-0.21],[-5.34,-0.29],[-5.41,-0.30],[-5.45,-0.40],[-5.09,-0.11],[-5.25,-0.08],[-5.17,-0.07],[-5.05,-0.03],[-4.97,-0.05],[-5.68,-0.55],[-5.72,-0.40],[-5.80,-0.37],[-5.80,-0.32],[-5.80,-0.29],[-6.06,-0.32],[-6.07,-0.27],[-6.14,-0.36],[-6.24,-0.36],[-6.25,-0.29],[-6.24,-0.25],[-6.51,-0.33],[-6.42,-0.73],[-6.35,-0.82],[-7.06,-0.54],[-7.17,-0.47],[-7.30,-0.46],[-7.38,-0.41],[-7.40,-0.52],[-7.41,-0.56],[-7.49,-0.60],[-7.57,-0.62],[-7.78,-0.58],[-7.77,-0.69],[-7.67,-0.74],[-7.99,-0.75],[-8.11,-0.63],[-8.06,-0.52],[-7.69,-0.51],[-7.65,-0.53],[-7.58,-0.44],[-7.68,-0.36],[-8.05,-0.35],[-8.07,-0.30],
[-6.83,-0.43],[-6.89,-0.42],[-7.03,-0.43],[-7.09,-0.40],[-7.14,-0.42],[-6.98,-0.36],[-6.87,-0.39],[-6.74,-0.36],[-6.69,-0.33],[-6.78,-0.37],[-7.54,-0.36],[-7.45,-0.33],[-7.36,-0.31],[-7.27,-0.29],[-7.16,-0.30],[-7.58,-0.30],[-7.49,-0.29],[-7.92,-0.31],[-6.69,-0.28],[-6.78,-0.24],[-6.92,-0.22],[-7.12,-0.24],[-7.03,-0.25],[-6.69,-0.20],[-6.51,-0.15],[-6.45,-0.19],[-6.43,-0.22],[-6.49,-0.26],[-6.36,-0.14],[-6.32,-0.09],[-6.23,-0.07],[-6.14,-0.12],[-6.05,-0.05],[-5.96,-0.06],[-5.94,-0.17],[-5.81,-0.17],[-5.63,-0.12],[-5.56,-0.12],[-5.52,-0.16],[-5.60,-0.14],[-5.54,-0.25],[-5.54,-0.29],[-5.78,-0.06],[-5.69,-0.04],[-5.67,-0.07],[-5.45,-0.01],[-5.38,-0.02],[-5.43,0.03],[-5.34,-0.03],[-5.65,0.12],[-5.58,0.12],[-5.50,0.10],[-5.77,0.04],[-5.65,0.03],[-5.85,0.00],[-5.96,0.03],[-6.07,0.04],[-6.14,0.05],[-6.23,0.09],[-6.34,0.03],[-6.43,0.09],[-6.51,0.04],[-6.60,0.05],[-6.60,-0.01],[-6.69,-0.05],[-5.34,0.13],[-5.29,0.18],[-5.23,0.13],[-5.12,0.16],[-5.05,0.12],[-5.16,0.08],[-5.14,0.03],[-5.34,0.19],[-5.27,0.26],[-5.20,0.21],[-5.23,0.29],[-5.47,0.30],[-5.41,0.27],[-5.40,0.37],[-5.34,0.40],[-5.29,0.45],[-5.27,0.35],[-5.52,0.45],[-5.58,0.44],[-5.63,0.44],[-5.60,0.51],[-5.69,0.54],[-5.76,0.52],[-5.78,0.44],[-5.72,0.40],[-5.78,0.36],[-5.94,0.38],[-5.89,0.32],[-6.03,0.46],[-6.08,0.35],[-6.03,0.25],[-5.94,0.21],[-5.85,0.22],[-5.89,0.16],[-5.80,0.12],[-5.76,0.29],[-5.63,0.31],[-5.50,0.33],[-5.58,0.25],[-5.65,0.19],[-5.54,0.19],[-5.69,0.17],[-6.16,0.33],[-6.14,0.25],[-6.14,0.16],[-6.23,0.16],[-6.20,0.44],[-6.25,0.44],[-6.38,0.44],[-6.34,0.33],[-6.27,0.31],[-6.43,0.37],[-6.52,0.35],[-6.60,0.33],[-6.34,0.21],[-6.47,0.27],[-6.56,0.23],[-6.69,0.27],[-6.60,0.16],[-6.38,0.14],[-6.52,0.12],[-6.56,0.52],[-6.65,0.54],[-6.74,0.52],[-6.60,0.47],[-6.49,0.51],[-6.47,0.41],[-6.78,0.46],[-6.65,0.39],[-6.80,0.33],
[-7.92,0.59],[-8.03,0.57],[-7.80,0.61],[-7.67,0.58],[-7.54,0.60],[-7.43,0.56],[-7.32,0.61],[-7.23,0.59],[-7.12,0.58],[-7.14,0.54],[-7.18,0.52],[-7.60,0.60],[-7.48,0.59],[-8.14,0.55],[-8.15,0.50],
[-8.10,0.47],[-7.98,0.50],[-7.86,0.52],[-7.74,0.50],[-7.62,0.47],[-7.49,0.51],[-7.37,0.46],[-7.24,0.48],[-7.04,0.46],[-6.92,0.47],
[-8.16,0.38],[-8.05,0.41],[-7.93,0.38],[-7.82,0.42],[-7.70,0.39],[-7.58,0.41],[-7.46,0.38],[-7.34,0.42],[-7.22,0.39],[-7.10,0.41],[-6.97,0.38],[-6.86,0.41],
[-8.20,0.31],[-8.09,0.34],[-7.97,0.30],[-7.86,0.33],[-7.74,0.30],[-7.62,0.33],[-7.51,0.30],[-7.39,0.34],[-7.27,0.30],[-7.15,0.33],[-7.03,0.31],[-6.91,0.33],[-6.79,0.28],
[-8.21,0.24],[-8.10,0.27],[-7.98,0.23],[-7.86,0.26],[-7.75,0.23],[-7.63,0.26],[-7.51,0.23],[-7.39,0.26],[-7.27,0.23],[-7.15,0.26],[-7.03,0.23],[-6.91,0.26],[-6.79,0.21],
[-8.21,0.17],[-8.10,0.20],[-7.98,0.16],[-7.86,0.19],[-7.75,0.16],[-7.63,0.19],[-7.51,0.16],[-7.39,0.19],[-7.27,0.16],[-7.15,0.19],[-7.03,0.16],[-6.91,0.19],[-6.79,0.14],[-6.68,0.17],
[-8.21,0.10],[-8.10,0.12],[-7.98,0.09],[-7.86,0.12],[-7.75,0.09],[-7.63,0.12],[-7.51,0.09],[-7.39,0.12],[-7.27,0.09],[-7.15,0.12],[-7.03,0.09],[-6.91,0.12],[-6.79,0.08],[-6.70,0.10],
[-8.22,0.03],[-8.10,0.05],[-7.98,0.02],[-7.86,0.05],[-7.75,0.02],[-7.63,0.05],[-7.51,0.02],[-7.39,0.05],[-7.27,0.02],[-7.15,0.05],[-7.03,0.02],[-6.91,0.05],[-6.79,0.01],
[-8.19,-0.04],[-8.08,-0.02],[-7.96,-0.05],[-7.84,-0.02],[-7.73,-0.05],[-7.61,-0.02],[-7.49,-0.05],[-7.37,-0.02],[-7.25,-0.05],[-7.13,-0.02],[-7.01,-0.05],[-6.89,-0.02],[-6.77,-0.06],
[-8.20,-0.11],[-8.09,-0.09],[-7.97,-0.12],[-7.85,-0.09],[-7.74,-0.12],[-7.50,-0.10],[-7.38,-0.13],[-7.26,-0.09],[-7.13,-0.12],[-7.02,-0.10],[-6.90,-0.12],[-6.78,-0.11],
[-8.18,-0.18],[-8.07,-0.16],[-7.95,-0.19],[-7.83,-0.17],[-7.72,-0.20],[-7.59,-0.17],[-7.46,-0.20],[-7.34,-0.17],[-7.22,-0.20],[-8.15,-0.26],[-8.02,-0.24],[-7.90,-0.26],[-7.78,-0.24],[-7.64,-0.25],[-7.52,-0.24],[-7.38,-0.25],
[-8.04,0.52],[-7.92,0.45],[-7.80,0.47],[-7.68,0.44],[-7.56,0.46],[-7.43,0.43],[-7.30,0.45],[-7.16,0.46],[-7.00,0.43],[-6.88,0.44],[-6.84,0.52],
[-8.14,0.43],[-8.11,0.35],[-7.99,0.36],[-7.88,0.37],[-7.76,0.35],[-7.64,0.37],[-7.52,0.35],[-7.40,0.38],[-7.28,0.35],[-7.16,0.37],[-7.04,0.36],[-6.92,0.37],[-6.80,0.38],
[-8.15,0.28],[-8.04,0.30],[-7.92,0.27],[-7.80,0.29],[-7.69,0.27],[-7.57,0.29],[-7.45,0.27],[-7.33,0.29],[-7.21,0.27],[-7.09,0.29],[-6.97,0.27],[-6.85,0.29],[-6.74,0.25],
[-8.16,0.21],[-8.04,0.23],[-7.92,0.20],[-7.80,0.22],[-7.69,0.20],[-7.57,0.22],[-7.45,0.20],[-7.33,0.22],[-7.21,0.20],[-7.09,0.22],[-6.97,0.20],[-6.85,0.22],[-6.74,0.18],
[-8.16,0.14],[-8.04,0.15],[-7.92,0.13],[-7.80,0.15],[-7.69,0.13],[-7.57,0.15],[-7.45,0.13],[-7.33,0.15],[-7.21,0.13],[-7.09,0.15],[-6.97,0.13],[-6.85,0.15],[-6.73,0.12],
[-8.16,0.06],[-8.04,0.08],[-7.92,0.06],[-7.80,0.08],[-7.69,0.06],[-7.57,0.08],[-7.45,0.06],[-7.33,0.08],[-7.21,0.06],[-7.09,0.08],[-6.97,0.06],[-6.85,0.08],[-6.72,0.06],
[-8.14,0.00],[-8.03,0.01],[-7.92,-0.01],[-7.80,0.01],[-7.69,-0.01],[-7.57,0.01],[-7.45,-0.01],[-7.33,0.01],[-7.21,-0.01],[-7.09,0.01],[-6.97,-0.01],[-6.85,0.01],[-6.72,-0.02],
[-8.14,-0.07],[-8.03,-0.06],[-7.90,-0.08],[-7.79,-0.06],[-7.67,-0.08],[-7.55,-0.06],[-7.43,-0.08],[-7.31,-0.06],[-7.19,-0.08],[-7.07,-0.06],[-6.95,-0.08],[-6.83,-0.06],[-6.72,-0.09],
[-8.15,-0.14],[-8.03,-0.13],[-7.91,-0.15],[-7.79,-0.14],[-7.66,-0.15],[-7.54,-0.13],[-7.42,-0.16],[-7.30,-0.13],[-7.18,-0.15],[-7.06,-0.16],[-6.84,-0.16],[-8.12,-0.22],[-7.99,-0.21],[-7.86,-0.22],[-7.76,-0.28],[-7.60,-0.21],[-7.48,-0.22],[-7.28,-0.21]
];

// axis ranges
const xLimA = [-7.196, -2.428], yLimA = [-0.42, 8.576];
const xLimB = [-10.02, -2.0], yLimB = [-0.65, 7.48];
const xLimC = [-7.84, -1.6], yLimC = [-0.405, 3.27];
const xLimD = [-8.41, -3.12], yLimD = [-0.934, 1.474];

// labelled ticks, then the unlabelled minor grid lines
const xMajorA = [-7, -6, -5, -4, -3], xMinorA = [-6.5, -5.5, -4.5, -3.5, -2.5];
const yMajorA = [0, 2, 4, 6, 8], yMinorA = [1, 3, 5, 7];
const xMajorB = [-10, -8, -6, -4], xMinorB = [-9, -7, -5, -3];
const yMajorB = [0, 2, 4, 6], yMinorB = [1, 3, 5, 7];
const xMajorC = [-6, -4, -2], xMinorC = [-7, -5, -3];
const yMajorC = [0, 1, 2, 3], yMinorC = [0.5, 1.5, 2.5];
const xMajorD = [-8, -7, -6, -5, -4], xMinorD = [-7.5, -6.5, -5.5, -4.5, -3.5];
const yMajorD = [-0.5, 0, 0.5, 1], yMinorD = [-0.75, -0.25, 0.25, 0.75, 1.25];

// correlation notes
const corLabels = ['cor = 0.62049', 'cor = 0.78734', 'cor = 0.77309', 'cor = 0.02139'];
const corAnchors = [[-3.47, -0.04], [-3.63, -0.31], [-2.49, -0.24], [-3.96, -0.826]];

const FONT = '"Liberation Sans", Arial, sans-serif';

// frame and the cor text go on top of the points
const framePlugin = {
  id: 'frame',
  afterDatasetsDraw(chart, args, opts) {
    const { ctx, chartArea: a, scales } = chart;
    ctx.save();
    ctx.strokeStyle = '#333';
    ctx.lineWidth = 1.5;
    ctx.strokeRect(a.left, a.top, a.right - a.left, a.bottom - a.top);
    ctx.fillStyle = '#333';
    ctx.font = '18px ' + FONT;
    ctx.textAlign = 'center';
    ctx.textBaseline = 'middle';
    ctx.fillText(opts.text, scales.x.getPixelForValue(opts.at[0]), scales.y.getPixelForValue(opts.at[1]));
    ctx.restore();
  }
};

function fmt(v, decimals) {
  const s = Math.abs(v).toFixed(decimals);
  return v < 0 ? '\u2212' + s : s;
}

function axis(lim, major, minor, decimals, label, titlePad, fit) {
  return {
    type: 'linear',
    min: lim[0],
    max: lim[1],
    afterBuildTicks: s => { s.ticks = major.concat(minor).map(v => ({ value: v })); },
    afterFit: fit,
    ticks: {
      autoSkip: false,
      maxRotation: 0,
      padding: 5,
      color: '#4d4d4d',
      font: { family: FONT, size: 16 },
      callback: v => major.includes(v) ? fmt(v, decimals) : ''
    },
    grid: {
      tickLength: 4,
      color: c => major.includes(c.tick.value) ? '#e2e2e2' : '#ebebeb',
      lineWidth: c => major.includes(c.tick.value) ? 1.5 : 1,
      tickColor: c => major.includes(c.tick.value) ? '#333' : 'rgba(0,0,0,0)'
    },
    border: { display: false },
    title: {
      display: true,
      text: label,
      color: '#1a1a1a',
      font: { family: FONT, size: 21 },
      padding: { top: titlePad, bottom: titlePad }
    }
  };
}

function panel(id, box, points, xLim, yLim, xMajor, xMinor, yMajor, yMinor, yDecimals, note) {
  const canvas = document.getElementById(id);
  canvas.width = box.w;
  canvas.height = box.h;
  canvas.style.left = box.left + 'px';
  canvas.style.top = box.top + 'px';
  canvas.style.width = box.w + 'px';
  canvas.style.height = box.h + 'px';
  new Chart(canvas, {
    type: 'scatter',
    data: { datasets: [{ data: points.map(p => ({ x: p[0], y: p[1] })), backgroundColor: '#000', borderWidth: 0, pointRadius: 4.7 }] },
    plugins: [framePlugin],
    options: {
      responsive: false,
      animation: false,
      layout: { padding: { top: 0, right: box.padRight } },
      plugins: {
        legend: { display: false },
        tooltip: { enabled: false },
        frame: note
      },
      scales: {
        x: axis(xLim, xMajor, xMinor, 0, 'PWM score', box.xTitlePad, s => { s.height = box.xAxis; }),
        y: axis(yLim, yMajor, yMinor, yDecimals, 'SVM weights', box.yTitlePad, s => { s.width = box.yAxis; })
      }
    }
  });
}

// the y axis keeps about 14.6px above the plot for its tick labels
panel('chartA', { left: 200, top: 62, w: 490, h: 448, padRight: 12.7, xAxis: 54, yAxis: 55.7, xTitlePad: 1.4, yTitlePad: 5.4 },
  ctcfPoints, xLimA, yLimA, xMajorA, xMinorA, yMajorA, yMinorA, 0, { text: corLabels[0], at: corAnchors[0] });
panel('chartB', { left: 690, top: 62, w: 487, h: 448, padRight: 12.3, xAxis: 54, yAxis: 53.3, xTitlePad: 1.4, yTitlePad: 3 },
  usf1Points, xLimB, yLimB, xMajorB, xMinorB, yMajorB, yMinorB, 0, { text: corLabels[1], at: corAnchors[1] });
panel('chartC', { left: 200, top: 549.4, w: 490, h: 449.6, padRight: 12.7, xAxis: 54, yAxis: 55.7, xTitlePad: 2.4, yTitlePad: 5.4 },
  six5Points, xLimC, yLimC, xMajorC, xMinorC, yMajorC, yMinorC, 0, { text: corLabels[2], at: corAnchors[2] });
panel('chartD', { left: 690, top: 549.4, w: 487, h: 449.6, padRight: 12.3, xAxis: 54, yAxis: 78, xTitlePad: 2.4, yTitlePad: 3 },
  bcl11aPoints, xLimD, yLimD, xMajorD, xMinorD, yMajorD, yMinorD, 1, { text: corLabels[3], at: corAnchors[3] });

// squeeze the caption to the printed line width
const cap1 = document.getElementById('cap1');
const cap2 = document.getElementById('cap2');
const squeeze = 1304 / cap1.getBoundingClientRect().width;
cap1.style.transform = 'scaleX(' + squeeze + ')';
cap2.style.transform = 'scaleX(' + squeeze + ')';
</script>
</body>
</html>
